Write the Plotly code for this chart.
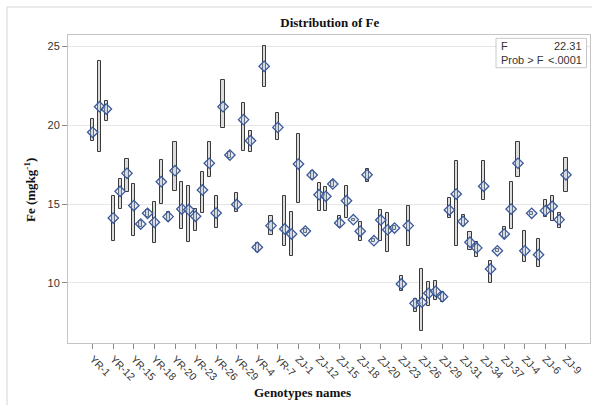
import plotly.graph_objects as go

# Genotype names in the order the procedure sorts them
yr_names = (["YR-1"] + [f"YR-{i}" for i in range(10, 20)] + ["YR-2"]
            + [f"YR-{i}" for i in range(20, 30)] + ["YR-3", "YR-30"]
            + [f"YR-{i}" for i in range(4, 10)])
zj_names = (["ZJ-1"] + [f"ZJ-{i}" for i in range(10, 20)] + ["ZJ-2"]
            + [f"ZJ-{i}" for i in range(20, 30)] + ["ZJ-3"]
            + [f"ZJ-{i}" for i in range(30, 40)] + ["ZJ-4", "ZJ-40"]
            + [f"ZJ-{i}" for i in range(5, 10)])
genotypes = yr_names + zj_names

# Mean Fe (mg/kg) per genotype
fe_mean = [19.54, 21.16, 21.01, 14.11, 15.80, 16.94, 14.90, 13.73, 14.41, 13.84,
           16.41, 14.20, 17.11, 14.68, 14.64, 14.22, 15.89, 17.58, 14.43, 21.16,
           18.10, 14.97, 20.34, 19.01, 12.26, 23.72, 13.63, 19.85, 13.42, 13.10,
           17.53, 13.29, 16.84, 15.59, 15.49, 16.27, 13.80, 15.21, 14.01, 13.27,
           16.85, 12.68, 13.99, 13.37, 13.48, 9.94, 13.63, 8.71, 8.78, 9.35,
           9.47, 9.13, 14.62, 15.63, 13.90, 12.58, 12.22, 16.12, 10.89, 12.04,
           13.10, 14.68, 17.58, 12.04, 14.41, 11.79, 14.58, 14.85, 14.01, 16.85]

# Lower and upper ends of each bar
fe_low = [19.00, 18.27, 20.27, 12.64, 14.68, 15.78, 12.96, 13.52, 14.16, 12.51,
          15.00, 13.95, 15.80, 13.42, 12.61, 13.27, 14.41, 16.69, 13.46, 19.79,
          17.89, 14.47, 18.37, 18.27, 11.98, 22.39, 13.04, 19.07, 12.32, 11.73,
          15.06, 13.18, 16.58, 14.54, 14.54, 16.06, 13.53, 14.09, 13.95, 12.64,
          16.37, 12.60, 12.68, 11.94, 13.38, 9.47, 12.36, 8.18, 6.96, 8.56,
          8.94, 8.82, 14.09, 12.36, 13.63, 12.11, 11.63, 15.27, 10.00, 11.96,
          12.83, 13.42, 16.69, 11.35, 14.30, 10.99, 14.16, 13.90, 13.46, 15.74]
fe_high = [20.38, 24.03, 21.50, 15.53, 16.58, 17.85, 16.27, 13.94, 14.62, 15.11,
           17.80, 14.47, 18.90, 16.37, 16.16, 14.68, 17.04, 18.94, 15.49, 22.85,
           18.27, 15.70, 21.39, 19.60, 12.51, 25.02, 14.22, 20.74, 15.53, 14.51,
           19.41, 13.40, 17.10, 16.33, 16.06, 16.47, 14.22, 16.12, 14.07, 13.88,
           17.22, 12.76, 14.62, 14.41, 13.58, 10.46, 14.89, 8.99, 10.89, 10.04,
           10.15, 9.41, 15.38, 17.74, 14.30, 13.25, 12.61, 17.74, 11.41, 12.12,
           13.53, 16.37, 18.90, 13.31, 14.52, 12.78, 15.27, 15.49, 14.41, 17.91]

# Only every third genotype gets a tick label
tick_labels = genotypes[::3]

f_value = "22.31"
p_value = "<.0001"

serif = "Liberation Serif"
sans = "Liberation Sans"

fig = go.Figure()

fig.add_trace(go.Bar(
    x=genotypes,
    y=[h - l for h, l in zip(fe_high, fe_low)],
    base=fe_low,
    width=0.45,
    marker=dict(color="#dcdcdc", line=dict(color="#3a3a3a", width=1)),
    hoverinfo="skip",
    showlegend=False,
))

fig.add_trace(go.Scatter(
    x=genotypes,
    y=fe_mean,
    mode="markers",
    marker=dict(symbol="diamond", size=8,
                color="rgba(190,210,242,0.35)",
                line=dict(color="#3b5a9a", width=1.3)),
    showlegend=False,
))

fig.update_layout(
    width=592, height=405,
    margin=dict(l=68, r=2, t=35, b=62),
    paper_bgcolor="white", plot_bgcolor="white",
    title=dict(text="<b>Distribution of Fe</b>", x=0.557, xanchor="center",
               y=1 - 22 / 405, yanchor="middle",
               font=dict(family=serif, size=13, color="#111")),
    bargap=0,
    xaxis=dict(
        type="category", categoryorder="array", categoryarray=genotypes,
        range=[-3.6, 72.5],
        tickmode="array", tickvals=tick_labels, ticktext=tick_labels,
        tickangle=45, ticks="outside", ticklen=5, tickcolor="#888",
        tickfont=dict(family=sans, size=10.5, color="#333"),
        showgrid=False, zeroline=False,
        showline=True, linecolor="#c4c4c4", mirror=True,
    ),
    yaxis=dict(
        range=[6.2, 25.7],
        tickvals=[10, 15, 20, 25],
        ticks="outside", ticklen=5, tickcolor="#888",
        tickfont=dict(family=sans, size=11, color="#333"),
        showgrid=True, gridcolor="#e6e6e6", zeroline=False,
        showline=True, linecolor="#c4c4c4", mirror=True,
    ),
)

# Axis titles
fig.add_annotation(text="<b>Genotypes names</b>", xref="paper", yref="paper",
                   x=(302 - 68) / 522, y=(343 - 392) / 308,
                   xanchor="center", yanchor="middle", showarrow=False,
                   font=dict(family=serif, size=13, color="#111"))
fig.add_annotation(text="<b>Fe (mgkg<sup>-1</sup>)</b>", xref="paper", yref="paper",
                   x=(30 - 68) / 522, y=(343 - 190) / 308, textangle=-90,
                   xanchor="center", yanchor="middle", showarrow=False,
                   font=dict(family=serif, size=13, color="#111"))

# ANOVA statistics inset
fig.add_shape(type="rect", xref="paper", yref="paper",
              x0=(496 - 68) / 522, x1=(586.5 - 68) / 522,
              y0=(343 - 67.7) / 308, y1=(343 - 38.3) / 308,
              line=dict(color="#c8c8c8", width=1), fillcolor="white")
for label, value, py in [("F", f_value, 46), ("Prob > F", p_value, 60)]:
    fig.add_annotation(text=label, xref="paper", yref="paper",
                       x=(499 - 68) / 522, y=(343 - py) / 308,
                       xanchor="left", yanchor="middle", showarrow=False,
                       font=dict(family=sans, size=11, color="#333"))
    fig.add_annotation(text=value, xref="paper", yref="paper",
                       x=(584 - 68) / 522, y=(343 - py) / 308,
                       xanchor="right", yanchor="middle", showarrow=False,
                       font=dict(family=sans, size=11, color="#333"))

# Outer frame around the whole graphic
fig.add_shape(type="rect", xref="paper", yref="paper",
              x0=(7 - 68) / 522, x1=(640 - 68) / 522,
              y0=(343 - 460) / 308, y1=(343 - 7) / 308,
              line=dict(color="#d6d6d6", width=1), layer="below")

fig.write_html("out.html")
